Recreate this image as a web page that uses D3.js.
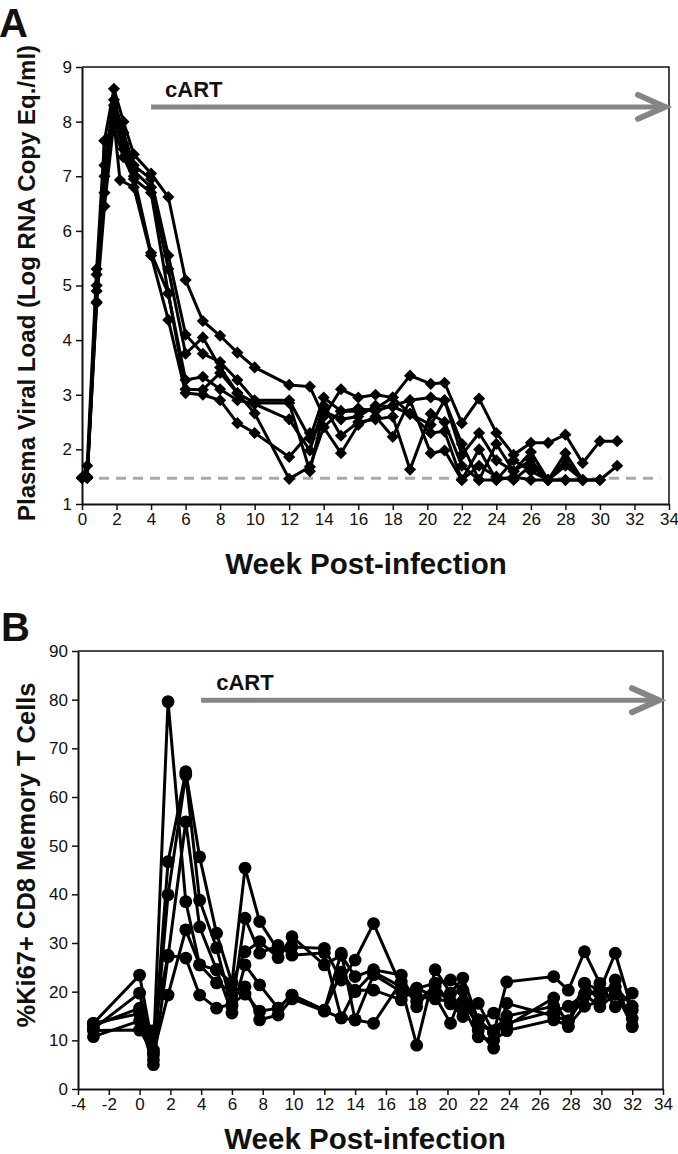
<!DOCTYPE html>
<html lang="en">
<head>
<meta charset="UTF-8"/>
<title>Viral load and Ki67+ CD8 memory T cells</title>
<script src="https://d3js.org/d3.v7.min.js"></script>
<style>
  body { margin:0; background:#fff; }
  svg text { font-family:"Liberation Sans", Arial, sans-serif; fill:#111; }
  .tick text { font-size:17px; }
  .title { font-weight:bold; }
</style>
</head>
<body>
<script>
// ---------- Panel A : plasma viral load, [week, log copies] per animal ----------
var vlAnimal1 = [[0,1.48],[0.3,1.7],[0.85,5.3],[1.3,7.65],[1.85,8.6],[2.4,8.0],[3,7.4],[4,7.05],[5,6.62],[6,5.1],[7,4.35],[8,4.08],[9,3.77],[10,3.5],[12,3.18],[13.2,3.15],[14,2.6],[15,3.1],[16,2.95],[17,3.0],[18,2.95],[19,3.35],[20.2,3.2],[21,3.22],[22,2.48],[23,2.93],[24,2.3],[25,1.9],[26,2.12],[27,2.12],[28,2.27],[29,1.75],[30,2.15],[31,2.15]];
var vlAnimal2 = [[0,1.48],[0.3,1.48],[0.85,5.2],[1.3,7.2],[1.85,8.4],[2.4,7.8],[3,7.2],[4,6.95],[5,5.55],[6,4.1],[7,3.75],[8,3.6],[9,3.27],[10,2.9],[12,2.9],[13.2,2.2],[14,2.95],[15,2.7],[16,2.75],[17,2.7],[18,2.8],[19,2.9],[20.2,2.95],[21,2.9],[22,1.9],[23,2.3],[24,1.8],[25,1.6],[26,1.8],[27,1.44],[28,1.93],[29,1.44],[30,1.44],[31,1.7]];
var vlAnimal3 = [[0,1.48],[0.3,1.48],[0.85,5.0],[1.3,7.0],[1.85,8.3],[2.4,7.6],[3,7.1],[4,6.8],[5,5.3],[6,3.75],[7,4.05],[8,3.5],[9,3.03],[10,2.85],[12,2.85],[13.2,1.6],[14,2.7],[15,2.55],[16,2.6],[17,2.8],[18,2.78],[19,2.65],[20.2,2.3],[21,2.33],[22,1.44],[23,2.0],[24,1.44],[25,1.8],[26,1.6],[27,1.44],[28,1.7],[29,1.44]];
var vlAnimal4 = [[0,1.48],[0.3,1.48],[0.85,4.9],[1.3,6.7],[1.85,8.1],[2.4,7.5],[3,7.0],[4,5.6],[5,4.85],[6,3.27],[7,3.33],[8,3.1],[9,2.9],[10,2.83],[12,2.55],[13.2,1.98],[14,2.8],[15,2.25],[16,2.5],[17,2.55],[18,2.6],[19,1.63],[20.2,2.65],[21,2.5],[22,1.7],[23,1.44],[24,2.1],[25,1.6],[26,1.95],[27,1.44],[28,1.44],[29,1.44]];
var vlAnimal5 = [[0,1.48],[0.3,1.5],[0.85,4.7],[1.3,6.45],[1.85,8.0],[2.2,6.93],[3,6.8],[4,5.55],[5,4.37],[6,3.03],[7,3.0],[8,2.9],[9,2.48],[10,2.3],[12,1.86],[13.2,2.3],[14,2.4],[15,1.93],[16,2.45],[17,2.6],[18,2.23],[19,2.9],[20.2,1.93],[21,1.98],[22,1.44],[23,1.7],[24,1.5],[25,1.44],[26,1.7],[27,1.44],[28,1.8],[29,1.44],[30,1.44]];
var vlAnimal6 = [[0,1.48],[0.3,1.48],[0.85,4.68],[1.3,7.65],[1.85,7.9],[2.4,7.35],[3,6.95],[4,6.7],[5,4.86],[6,3.1],[7,3.09],[8,3.4],[9,3.03],[10,2.66],[12,1.46],[13.2,1.68],[14,2.41],[15,2.7],[16,2.7],[17,2.75],[18,2.95],[19,2.65],[20.2,2.45],[21,2.9],[22,2.1],[23,1.44],[24,1.44],[25,1.5],[26,1.44],[27,1.44],[28,1.44],[29,1.44]];
var vlTicksX = d3.range(0, 35, 2);
var vlTicksY = d3.range(1, 10, 1);
var vlLimit = 1.47;      // detection limit (dashed line)
var cartStartA = [4, 8.27];

// ---------- Panel B : %Ki67+ CD8 memory T cells, [week, %] per animal ----------
var kiAnimal1 = [[-3,13.5],[0,23.4],[0.9,8],[1.85,79.6],[3,38.5],[3.9,25.5],[5,24.5],[6,21.8],[6.85,45.4],[7.8,34.4],[9,28.5],[9.9,29.2],[12,28.9],[13.1,22.4],[14,26.5],[15.2,34],[17,21],[18,9],[19.2,24.5],[20.2,19.7],[21,22.8],[22,14.2],[23,11.5],[23.85,22],[26.9,23.1],[27.85,20.3],[28.9,28.2],[29.9,21.7],[30.9,16.9],[32,19.7]];
var kiAnimal2 = [[-3,12.4],[0,19.7],[0.9,7],[1.85,46.7],[3,65.2],[3.9,47.7],[5,32],[6,21.8],[6.85,28.2],[7.8,30.3],[9,27],[9.9,31.3],[12,25.5],[13.1,27.5],[14,23.1],[15.2,24.5],[17,23.4],[18,16.9],[19.2,21.7],[20.2,22.4],[21,20.3],[22,14.2],[23,15.6],[23.85,13],[26.9,18.7],[27.85,12.8],[28.9,21.7],[29.9,20.3],[30.9,27.9],[32,16.2]];
var kiAnimal3 = [[-3,13],[0,16.6],[0.9,6],[1.85,39.9],[3,64.5],[3.9,38.8],[5,29],[6,17],[6.85,35.1],[7.8,27.9],[9,29.5],[9.9,27.5],[12,28],[13.1,14.6],[14,20.3],[15.2,20.3],[17,18.3],[18,20.7],[19.2,19],[20.2,13.5],[21,20.3],[22,12],[23,8.4],[23.85,17.6],[26.9,15],[27.85,14],[28.9,21.7],[29.9,18],[30.9,22.4],[32,12.8]];
var kiAnimal4 = [[-3,10.75],[0,14],[0.9,5],[1.85,27.2],[3,54.9],[3.9,33.3],[5,24.5],[6,15.6],[6.85,25.5],[7.8,21.4],[9,16.6],[9.9,19.3],[12,16.2],[13.1,27.9],[14,14.2],[15.2,23.5],[17,20],[18,20.7],[19.2,21.7],[20.2,17.5],[21,14.9],[22,17.6],[23,11.5],[23.85,13.5],[26.9,16],[27.85,17],[28.9,19.5],[29.9,16.9],[30.9,19.5],[32,14.5]];
var kiAnimal5 = [[-3,12],[0,12.1],[0.9,7.5],[1.85,19.3],[3,32.7],[3.9,25.5],[5,21.8],[6,20],[6.85,21],[7.8,14.2],[9,15.2],[9.9,18.5],[12,16],[13.1,14.6],[14,14.2],[15.2,13.5],[17,22],[18,19],[19.2,18.5],[20.2,18],[21,17],[22,10.7],[23,10],[23.85,12],[26.9,14.2],[27.85,13],[28.9,17],[29.9,18],[30.9,20],[32,13]];
var kiAnimal6 = [[-3,13.5],[0,15.5],[0.9,12],[1.85,27.5],[3,26.9],[3.9,19.3],[5,16.6],[6,17.5],[6.85,19.5],[7.8,16],[9,16.6],[9.9,19.3],[12,16.2],[13.1,24],[14,20],[15.2,24],[17,21],[18,18],[19.2,21],[20.2,17.5],[21,18],[22,13],[23,12],[23.85,15],[26.9,17],[27.85,14],[28.9,19],[29.9,20.3],[30.9,21],[32,17]];
var kiTicksX = d3.range(-4, 35, 2);
var kiTicksY = d3.range(0, 91, 10);
var cartStartB = [4, 79.9];

var W = 678, H = 1154;
var svg = d3.select("body").append("svg").attr("width", W).attr("height", H);

function panel(opt) {
  var x = d3.scaleLinear().domain(opt.xDomain).range([opt.left, opt.right]);
  var y = d3.scaleLinear().domain(opt.yDomain).range([opt.bottom, opt.top]);
  var g = svg.append("g");

  // frame (top and right edges)
  g.append("path")
    .attr("d", "M" + opt.left + "," + opt.top + "H" + opt.right + "V" + opt.bottom)
    .attr("fill", "none").attr("stroke", "#111").attr("stroke-width", 1.5);

  var fmt = function(d){ return String(d); };   // plain hyphen minus like the original
  var ax = g.append("g").attr("transform", "translate(0," + opt.bottom + ")")
    .call(d3.axisBottom(x).tickValues(opt.xTicks).tickFormat(fmt).tickSize(6).tickPadding(3).tickSizeOuter(0));
  var ay = g.append("g").attr("transform", "translate(" + opt.left + ",0)")
    .call(d3.axisLeft(y).tickValues(opt.yTicks).tickFormat(fmt).tickSize(6).tickPadding(4).tickSizeOuter(0));
  [ax, ay].forEach(function(a) {
    a.select(".domain").attr("stroke", "#111").attr("stroke-width", 2);
    a.selectAll(".tick line").attr("stroke", "#111").attr("stroke-width", 1.5);
    a.selectAll(".tick text").attr("fill", "#111");
  });

  if (opt.extra) opt.extra(g, x, y);

  // cART arrow
  var ax0 = x(opt.cart[0]), ay0 = y(opt.cart[1]), ax1 = opt.right - 4;
  g.append("line").attr("x1", ax0).attr("x2", ax1 - 2).attr("y1", ay0).attr("y2", ay0)
    .attr("stroke", "#858585").attr("stroke-width", 5);
  g.append("polyline")
    .attr("points", [[ax1 - 27, ay0 - 12], [ax1, ay0], [ax1 - 27, ay0 + 12]].join(" "))
    .attr("fill", "none").attr("stroke", "#858585").attr("stroke-width", 6)
    .attr("stroke-linecap", "round").attr("stroke-linejoin", "miter");
  g.append("text").attr("class", "title").attr("x", ax0 + opt.cartDx).attr("y", ay0 - 10)
    .attr("font-size", 22).text("cART");

  var line = d3.line().x(function(d){ return x(d[0]); }).y(function(d){ return y(d[1]); });
  opt.series.forEach(function(s) {
    g.append("path").datum(s).attr("d", line)
      .attr("fill", "none").attr("stroke", "#000").attr("stroke-width", 3);
  });
  opt.series.forEach(function(s) {
    var pts = g.append("g").selectAll("g").data(s).enter();
    if (opt.marker === "diamond") {
      pts.append("path")
        .attr("d", d3.symbol(d3.symbolSquare, 74))
        .attr("transform", function(d){ return "translate(" + x(d[0]) + "," + y(d[1]) + ") rotate(45)"; })
        .attr("fill", "#000");
    } else {
      pts.append("circle").attr("cx", function(d){ return x(d[0]); })
        .attr("cy", function(d){ return y(d[1]); }).attr("r", 6.4).attr("fill", "#000");
    }
  });

  // titles
  svg.append("text").attr("class", "title").attr("x", opt.letterX).attr("y", opt.letterY)
    .attr("font-size", 40).text(opt.letter);
  svg.append("text").attr("class", "title").attr("text-anchor", "middle")
    .attr("x", opt.xTitleX).attr("y", opt.xTitleY).attr("font-size", 29.5).text("Week Post-infection");
  svg.append("text").attr("class", "title").attr("text-anchor", "middle")
    .attr("transform", "translate(" + opt.yTitleX + "," + opt.yTitleY + ") rotate(-90)")
    .attr("font-size", opt.yTitleSize).text(opt.yTitle);
}

panel({
  xDomain: [0, 34], yDomain: [1, 9], left: 82, right: 669, top: 67, bottom: 504,
  xTicks: vlTicksX, yTicks: vlTicksY, cart: cartStartA, cartDx: 14,
  series: [vlAnimal1, vlAnimal2, vlAnimal3, vlAnimal4, vlAnimal5, vlAnimal6],
  marker: "diamond", letter: "A", letterX: -1, letterY: 37,
  xTitleX: 366, xTitleY: 574, yTitleX: 35, yTitleY: 283, yTitleSize: 24,
  yTitle: "Plasma Viral Load (Log RNA Copy Eq./ml)",
  extra: function(g, x, y) {
    g.append("line").attr("x1", x(0)).attr("x2", x(33.5))
      .attr("y1", y(vlLimit)).attr("y2", y(vlLimit))
      .attr("stroke", "#aaa").attr("stroke-width", 3).attr("stroke-dasharray", "10,7");
  }
});

panel({
  xDomain: [-4, 34], yDomain: [0, 90], left: 78, right: 663, top: 651, bottom: 1089,
  xTicks: kiTicksX, yTicks: kiTicksY, cart: cartStartB, cartDx: 15,
  series: [kiAnimal1, kiAnimal2, kiAnimal3, kiAnimal4, kiAnimal5, kiAnimal6],
  marker: "circle", letter: "B", letterX: 1, letterY: 641,
  xTitleX: 365, xTitleY: 1149, yTitleX: 35, yTitleY: 855, yTitleSize: 25.5,
  yTitle: "%Ki67+ CD8 Memory T Cells"
});
</script>
</body>
</html>
